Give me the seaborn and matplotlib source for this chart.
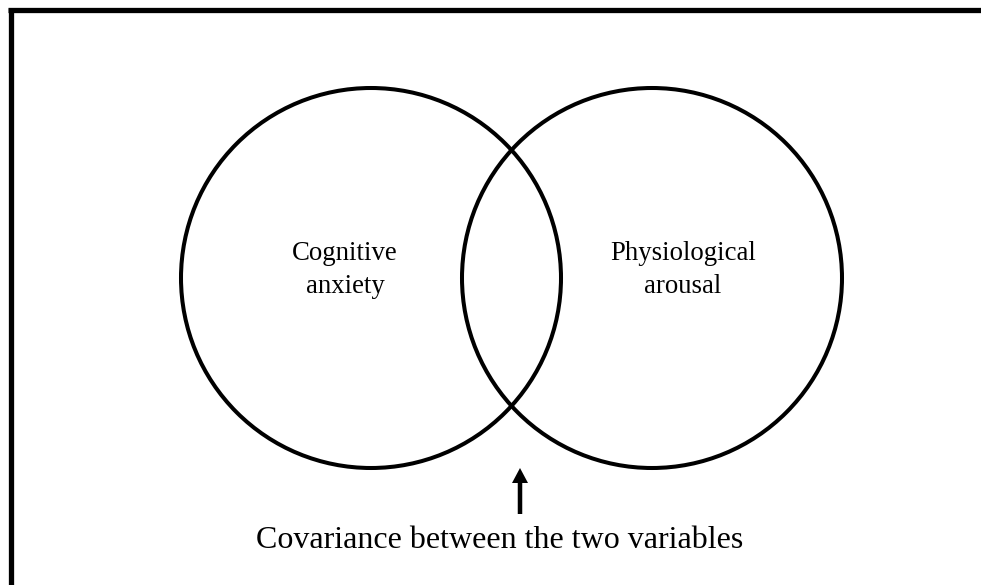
import matplotlib
matplotlib.use("Agg")
import matplotlib.pyplot as plt
from matplotlib.patches import Circle, FancyArrow
import seaborn as sns

# Data
set_labels = ["Cognitive\nanxiety", "Physiological\narousal"]
overlap_label = "Covariance between the two variables"
center_x = [371, 652]
center_y = [278, 278]
radius = [190, 190]
label_x = [345, 683]
label_y = [270, 270]

sns.set_theme(style="white")
plt.rcParams["font.family"] = ["Liberation Serif", "DejaVu Serif"]

fig = plt.figure(figsize=(9.81, 5.85), dpi=100)
ax = fig.add_axes([0, 0, 1, 1])
ax.set_xlim(0, 981)
ax.set_ylim(585, 0)
ax.set_aspect("equal")
ax.axis("off")

# frame (top and left only)
ax.plot([8, 981], [9.5, 9.5], color="black", lw=3.8, solid_capstyle="butt")
ax.plot([10.5, 10.5], [7.6, 585], color="black", lw=3.8, solid_capstyle="butt")

for cx, cy, r in zip(center_x, center_y, radius):
    ax.add_patch(Circle((cx, cy), r, fill=False, edgecolor="black", lw=2.9))

for lx, ly, t in zip(label_x, label_y, set_labels):
    ax.text(lx, ly, t, ha="center", va="center", fontsize=19.3,
            linespacing=1.45, color="black")

# arrow pointing to the overlap
ax.add_patch(FancyArrow(520, 514, 0, -31, width=4.5, head_width=16,
                        head_length=15, length_includes_head=False,
                        color="black", lw=0))

ax.text(500, 541, overlap_label, ha="center", va="center", fontsize=23,
        color="black")

fig.savefig("out.png", dpi=100)
